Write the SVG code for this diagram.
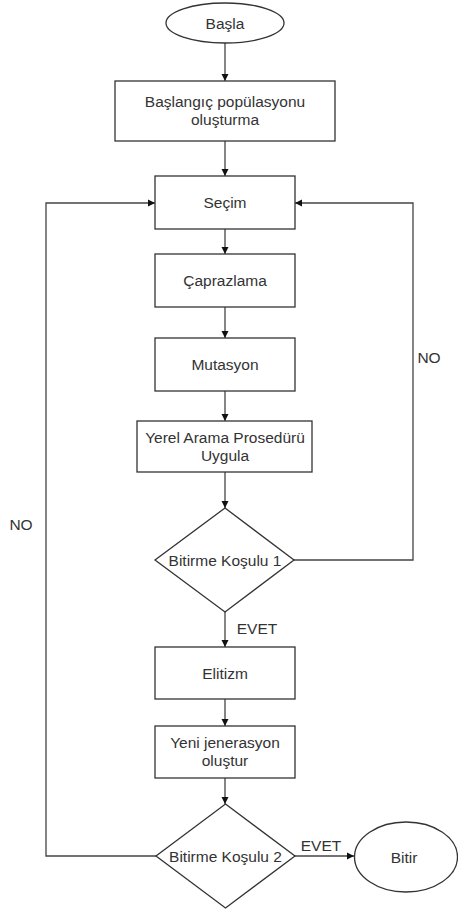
<svg xmlns="http://www.w3.org/2000/svg" width="458" height="910" viewBox="0 0 458 910">
<style>
.s{fill:#fff;stroke:#333;stroke-width:1.3}
.t{font-family:"Liberation Sans",Arial,sans-serif;font-size:15.5px;fill:#333;text-anchor:middle}
.c{fill:none;stroke:#444;stroke-width:1.3}
</style>
<defs>
<marker id="ah" markerWidth="8" markerHeight="8" refX="7" refY="4" orient="auto" markerUnits="userSpaceOnUse">
<path d="M0,0.5 L7,4 L0,7.5 Z" fill="#111"/>
</marker>
</defs>
<rect width="458" height="910" fill="#fff"/>
<g id="connectors">
<path class="c" d="M225,43 V81" marker-end="url(#ah)"/>
<path class="c" d="M225,141 V176" marker-end="url(#ah)"/>
<path class="c" d="M225,229 V254" marker-end="url(#ah)"/>
<path class="c" d="M225,307 V338" marker-end="url(#ah)"/>
<path class="c" d="M225,391 V421" marker-end="url(#ah)"/>
<path class="c" d="M225,472 V508" marker-end="url(#ah)"/>
<path class="c" d="M225,612 V647" marker-end="url(#ah)"/>
<path class="c" d="M225,699 V726" marker-end="url(#ah)"/>
<path class="c" d="M225,778 V804" marker-end="url(#ah)"/>
<path class="c" d="M295,856 H354" marker-end="url(#ah)"/>
<path class="c" d="M294,560 H413 V203 H295" marker-end="url(#ah)"/>
<path class="c" d="M156,856 H46 V203 H155" marker-end="url(#ah)"/>
<text class="t" x="257" y="634">EVET</text>
<text class="t" x="321" y="851">EVET</text>
<text class="t" x="429" y="363">NO</text>
<text class="t" x="21" y="530">NO</text>
</g>
<g id="basla">
<ellipse class="s" cx="225" cy="23" rx="59" ry="20"/>
<text class="t" x="225" y="28.5">Başla</text>
</g>
<g id="baslangic">
<rect class="s" x="115" y="81" width="220" height="60"/>
<text class="t" x="225" y="107">Başlangıç popülasyonu</text>
<text class="t" x="225" y="125">oluşturma</text>
</g>
<g id="secim">
<rect class="s" x="155" y="176" width="140" height="53"/>
<text class="t" x="225" y="208">Seçim</text>
</g>
<g id="caprazlama">
<rect class="s" x="155" y="254" width="140" height="53"/>
<text class="t" x="225" y="286">Çaprazlama</text>
</g>
<g id="mutasyon">
<rect class="s" x="155" y="338" width="140" height="53"/>
<text class="t" x="225" y="370">Mutasyon</text>
</g>
<g id="yerel">
<rect class="s" x="137" y="421" width="175" height="51"/>
<text class="t" x="225" y="443">Yerel Arama Prosedürü</text>
<text class="t" x="225" y="461">Uygula</text>
</g>
<g id="kosul1">
<path class="s" d="M225,508 L294,560 L225,612 L155,560 Z"/>
<text class="t" x="225" y="565.5">Bitirme Koşulu 1</text>
</g>
<g id="elitizm">
<rect class="s" x="155" y="647" width="140" height="52"/>
<text class="t" x="225" y="678.5">Elitizm</text>
</g>
<g id="yeni">
<rect class="s" x="155" y="726" width="140" height="52"/>
<text class="t" x="225" y="748">Yeni jenerasyon</text>
<text class="t" x="225" y="766">oluştur</text>
</g>
<g id="kosul2">
<path class="s" d="M225.5,804 L295,856 L225.5,908 L156,856 Z"/>
<text class="t" x="225.5" y="861.5">Bitirme Koşulu 2</text>
</g>
<g id="bitir">
<ellipse class="s" cx="406" cy="857" rx="51.5" ry="35"/>
<text class="t" x="404" y="862.5">Bitir</text>
</g>
</svg>
